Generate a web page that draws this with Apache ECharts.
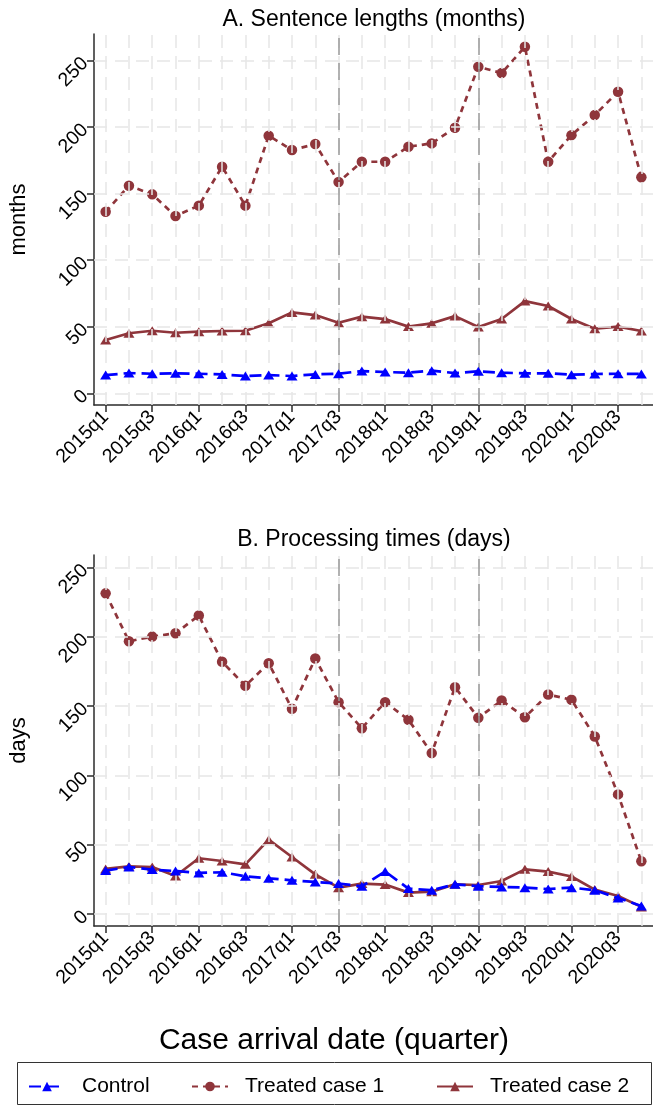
<!DOCTYPE html>
<html>
<head>
<meta charset="utf-8">
<script src="https://cdn.jsdelivr.net/npm/echarts@6/dist/echarts.min.js"></script>
<style>
html, body { margin: 0; padding: 0; background: #fff; overflow: hidden; }
#chart { width: 653px; height: 1106px; }
</style>
</head>
<body>
<div id="chart"></div>
<script>
// Quarter of case arrival
const quarters = [
  '2015q1', '2015q2', '2015q3', '2015q4',
  '2016q1', '2016q2', '2016q3', '2016q4',
  '2017q1', '2017q2', '2017q3', '2017q4',
  '2018q1', '2018q2', '2018q3', '2018q4',
  '2019q1', '2019q2', '2019q3', '2019q4',
  '2020q1', '2020q2', '2020q3', '2020q4'
];

// Panel A: sentence lengths (months)
const sentenceControl = [13.7, 15.2, 14.7, 15.0, 14.7, 14.2, 13.0, 13.7, 13.0, 14.2, 14.7, 16.7,
                         16.0, 15.5, 17.0, 15.2, 16.5, 15.5, 15.0, 15.0, 14.0, 14.5, 14.7, 14.5];
const sentenceTreated1 = [136.4, 156.0, 149.5, 133.2, 141.0, 170.3, 141.0, 193.6, 182.8, 187.3, 158.8, 174.0,
                          174.0, 185.3, 187.8, 199.6, 245.4, 240.6, 260.4, 174.0, 194.0, 209.1, 226.6, 162.3];
const sentenceTreated2 = [40.0, 45.1, 47.0, 45.5, 46.3, 46.8, 47.0, 52.6, 60.8, 58.8, 53.0, 57.6,
                          55.8, 50.1, 52.6, 58.0, 49.8, 55.8, 69.3, 65.6, 55.8, 48.5, 50.1, 46.8];

// Panel B: processing times (days)
const processingControl = [31.3, 33.9, 32.0, 31.0, 29.6, 30.1, 27.2, 25.7, 24.3, 23.1, 22.0, 20.0,
                           30.6, 18.3, 17.1, 21.4, 20.0, 19.5, 19.0, 18.0, 19.0, 17.1, 11.5, 5.8];
const processingTreated1 = [231.4, 196.8, 200.2, 202.6, 215.4, 182.0, 164.7, 181.0, 148.1, 184.4, 152.9, 134.1,
                            152.9, 140.2, 116.1, 163.7, 141.6, 154.1, 142.0, 158.4, 154.6, 128.1, 86.3, 38.0];
const processingTreated2 = [32.5, 34.4, 33.9, 27.4, 40.2, 38.2, 35.8, 53.6, 41.1, 28.6, 19.0, 21.9,
                            21.2, 15.4, 16.1, 21.4, 20.9, 23.8, 32.2, 30.6, 27.0, 17.6, 13.0, 5.1];

// Axis ticks
const yTicks = [0, 50, 100, 150, 200, 250];
const labeledQuarters = [0, 2, 4, 6, 8, 10, 12, 14, 16, 18, 20, 22];
const allQuarters = [0, 1, 2, 3, 4, 5, 6, 7, 8, 9, 10, 11, 12, 13, 14, 15, 16, 17, 18, 19, 20, 21, 22, 23];
const referenceQuarters = [10, 16]; // 2017q3, 2019q1

const FONT = '"Liberation Sans", Arial, Helvetica, sans-serif';
const CRANBERRY = '#8f353b';
const BLUE = '#0000ff';
const AXIS_COLOR = '#2b2b2b';
const TICK_FONT = 19.5;

const panels = [
  { top: 34, height: 371, yMin: -8.8, yMax: 270, yName: 'months',
    control: sentenceControl, t1: sentenceTreated1, t2: sentenceTreated2 },
  { top: 555, height: 371, yMin: -8.7, yMax: 259.1, yName: 'days',
    control: processingControl, t1: processingTreated1, t2: processingTreated2 }
];

const toPairs = arr => arr.map((v, i) => [i, v]);

const grids = [], xAxes = [], yAxes = [], series = [];

panels.forEach((p, k) => {
  grids.push({ left: 84.8, width: 578.9, top: p.top, height: p.height, containLabel: false });

  xAxes.push({
    gridIndex: k, type: 'value', min: -0.5, max: 23.5,
    axisLine: { show: true, onZero: false, lineStyle: { color: AXIS_COLOR, width: 1.5 } },
    axisTick: { show: true, customValues: labeledQuarters, length: 7, lineStyle: { color: AXIS_COLOR, width: 1.5 } },
    axisLabel: {
      show: true, customValues: labeledQuarters, rotate: 45, margin: 9,
      formatter: v => quarters[Math.round(v)], color: '#000', fontSize: TICK_FONT, fontFamily: FONT
    },
    splitLine: { show: false }
  });

  yAxes.push({
    gridIndex: k, type: 'value', min: p.yMin, max: p.yMax,
    name: p.yName, nameLocation: 'middle', nameGap: 64, nameRotate: 90,
    nameTextStyle: { color: '#000', fontSize: 22, fontFamily: FONT },
    axisLine: { show: true, onZero: false, lineStyle: { color: AXIS_COLOR, width: 1.5 } },
    axisTick: { show: true, customValues: yTicks, length: 7, lineStyle: { color: AXIS_COLOR, width: 1.5 } },
    axisLabel: {
      show: true, customValues: yTicks, rotate: 45, margin: 9,
      color: '#000', fontSize: TICK_FONT, fontFamily: FONT
    },
    splitLine: { show: false }
  });

  // light dashed grid
  series.push({
    type: 'line', xAxisIndex: k, yAxisIndex: k, data: [], z: 1, silent: true,
    markLine: {
      silent: true, symbol: ['none', 'none'], label: { show: false }, animation: false,
      lineStyle: { color: '#e6e6e6', width: 1.5, type: [13, 8] },
      emphasis: { disabled: true },
      data: allQuarters.map(q => ({ xAxis: q })).concat(yTicks.map(t => ({ yAxis: t })))
    }
  });

  // reference lines
  series.push({
    type: 'line', xAxisIndex: k, yAxisIndex: k, data: [], z: 2, silent: true,
    markLine: {
      silent: true, symbol: ['none', 'none'], label: { show: false }, animation: false,
      lineStyle: { color: '#999999', width: 1.5, type: [17, 8] },
      emphasis: { disabled: true },
      data: referenceQuarters.map(q => ({ xAxis: q }))
    }
  });

  series.push({
    name: 'Treated case 2', type: 'line', xAxisIndex: k, yAxisIndex: k, z: 3,
    data: toPairs(p.t2), symbol: 'triangle', symbolSize: [11, 9],
    itemStyle: { color: CRANBERRY }, lineStyle: { color: CRANBERRY, width: 2.7 },
    clip: false
  });
  series.push({
    name: 'Treated case 1', type: 'line', xAxisIndex: k, yAxisIndex: k, z: 4,
    data: toPairs(p.t1), symbol: 'circle', symbolSize: 10.5,
    itemStyle: { color: CRANBERRY }, lineStyle: { color: CRANBERRY, width: 2.7, type: [6, 5] },
    clip: false
  });
  series.push({
    name: 'Control', type: 'line', xAxisIndex: k, yAxisIndex: k, z: 5,
    data: toPairs(p.control), symbol: 'triangle', symbolSize: [11, 9],
    itemStyle: { color: BLUE }, lineStyle: { color: BLUE, width: 2.7, type: [12, 6] },
    clip: false
  });
});

const legendBase = {
  orient: 'horizontal', top: 1076, padding: 0, itemWidth: 36, itemHeight: 12,
  selectedMode: false,
  textStyle: { color: '#000', fontSize: 21, fontFamily: FONT, padding: [0, 0, 0, 12] }
};

const textEl = (text, x, y, size) => ({
  type: 'text', x: x, y: y, silent: true,
  style: {
    text: text, fill: '#000', font: size + 'px ' + FONT,
    textAlign: 'center', textVerticalAlign: 'middle', align: 'center', verticalAlign: 'middle'
  }
});

const option = {
  animation: false,
  backgroundColor: '#fff',
  grid: grids,
  xAxis: xAxes,
  yAxis: yAxes,
  series: series,
  legend: [
    Object.assign({}, legendBase, { left: 28, data: ['Control'] }),
    Object.assign({}, legendBase, { left: 191, data: ['Treated case 1'] }),
    Object.assign({}, legendBase, { left: 436, data: ['Treated case 2'] })
  ],
  graphic: [
    textEl('A. Sentence lengths (months)', 374, 20, 23),
    textEl('B. Processing times (days)', 374, 540, 23),
    textEl('Case arrival date (quarter)', 334, 1041, 30),
    {
      type: 'rect', silent: true,
      shape: { x: 17.5, y: 1062.5, width: 634, height: 42 },
      style: { fill: 'none', stroke: '#333', lineWidth: 1 }
    }
  ]
};

const chart = echarts.init(document.getElementById('chart'), null, { renderer: 'canvas' });
chart.setOption(option);
</script>
</body>
</html>
